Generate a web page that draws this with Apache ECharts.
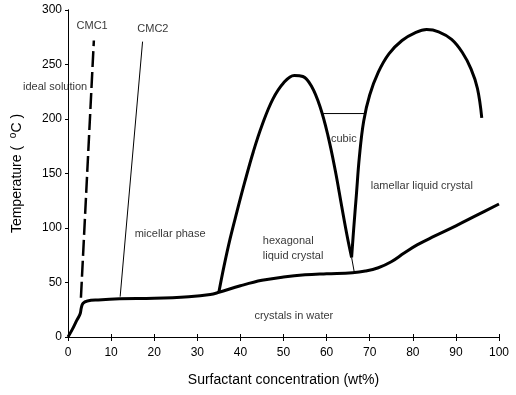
<!DOCTYPE html>
<html>
<head>
<meta charset="utf-8">
<script src="https://cdn.jsdelivr.net/npm/echarts@6/dist/echarts.min.js"></script>
<style>
  html, body { margin: 0; padding: 0; background: #fff; }
  #chart { width: 516px; height: 395px; }
</style>
</head>
<body>
<div id="chart"></div>
<script>
// 相边界数据 (x = wt%, y = °C)
const crystalLine = [
  [0, 0], [1, 7], [2, 15], [2.8, 21], [3.1, 27], [3.5, 31], [4.5, 33], [7, 34],
  [12, 35], [20, 35.5], [28, 37], [33, 39], [35, 41], [40, 47], [45, 52], [50, 55],
  [55, 57], [60, 58], [66, 59], [69, 60.5], [72, 63.5], [75, 69], [78, 77],
  [81, 84.5], [85, 92.5], [90, 102], [95, 112], [100, 122]
];
const hexagonalDome = [
  [35, 41], [36.2, 65], [37.6, 90], [39.2, 115], [41, 142], [43, 170], [45, 194],
  [47.5, 218], [50, 233], [52.5, 240], [54.5, 239], [56.5, 230], [58.5, 211],
  [60.3, 185], [62, 153], [63.5, 120], [64.8, 92], [65.8, 73]
];
const lamellarDome = [
  [65.8, 73], [66.3, 100], [66.9, 130], [67.6, 165], [68.6, 198], [70, 222],
  [72, 243], [74.5, 260], [77.5, 272], [80.5, 279], [83.2, 282], [86, 280],
  [89, 273], [91.5, 261], [93.5, 246], [95, 228], [96, 201]
];
const cmc1Line = [[3, 36], [6, 272]];
const cmc2Line = [[12.1, 37], [17.3, 271]];
const cubicLine = [[59.2, 205], [68.9, 205]];
const hexFoot = [[65.8, 73], [66.4, 60]];

// 文字标注 (数据坐标)
const annotations = [
  { value: [5.6, 285], text: 'CMC1', align: 'center' },
  { value: [19.7, 283], text: 'CMC2', align: 'center' },
  { value: [-3, 229], text: 'ideal solution', align: 'center' },
  { value: [23.7, 94.5], text: 'micellar phase', align: 'center' },
  { value: [45.2, 81], text: 'hexagonal\nliquid crystal', align: 'left' },
  { value: [64, 182], text: 'cubic', align: 'center' },
  { value: [82.1, 138.5], text: 'lamellar liquid crystal', align: 'center' },
  { value: [52.4, 19], text: 'crystals in water', align: 'center' }
];

const xTicks = [0, 100, 10];
const yTicks = [0, 300, 50];

const chart = echarts.init(document.getElementById('chart'));
const font = 'Liberation Sans, Arial, sans-serif';

const thick = (data) => ({
  type: 'line', data, smooth: 0.4, showSymbol: false, silent: true,
  lineStyle: { color: '#000', width: 3 }
});
const thin = (data) => ({
  type: 'line', data, showSymbol: false, silent: true,
  lineStyle: { color: '#000', width: 1 }
});

chart.setOption({
  animation: false,
  backgroundColor: '#fff',
  grid: { left: 68, right: 17, top: 10, bottom: 58 },
  xAxis: [
    {
      type: 'value', min: xTicks[0], max: xTicks[1], interval: xTicks[2],
      name: 'Surfactant concentration (wt%)', nameLocation: 'middle', nameGap: 36,
      nameTextStyle: { color: '#000', fontSize: 14, fontFamily: font },
      axisLine: { lineStyle: { color: '#000', width: 1 } },
      axisTick: { inside: true, length: 3, lineStyle: { color: '#000' } },
      axisLabel: { color: '#000', fontSize: 12, fontFamily: font, margin: 10 },
      splitLine: { show: false }
    },
    {
      type: 'value', position: 'top', min: xTicks[0], max: xTicks[1], interval: xTicks[2],
      axisLine: { lineStyle: { color: '#000', width: 1 } },
      axisTick: { inside: true, length: 4, lineStyle: { color: '#000' } },
      axisLabel: { show: false },
      splitLine: { show: false }
    }
  ],
  yAxis: [
    {
      type: 'value', min: yTicks[0], max: yTicks[1], interval: yTicks[2],
      name: 'Temperature (  {sup|o}C )', nameLocation: 'middle', nameGap: 42,
      nameTextStyle: {
        color: '#000', fontSize: 14, fontFamily: font,
        rich: { sup: { fontSize: 10, verticalAlign: 'top', padding: [0, 0, 8, 0], color: '#000', fontFamily: font } }
      },
      axisLine: { lineStyle: { color: '#000', width: 1 } },
      axisTick: { inside: false, length: 3, lineStyle: { color: '#000' } },
      axisLabel: { color: '#000', fontSize: 12, fontFamily: font, margin: 6 },
      splitLine: { show: false }
    },
    {
      type: 'value', position: 'right', min: yTicks[0], max: yTicks[1], interval: yTicks[2],
      axisLine: { lineStyle: { color: '#000', width: 1 } },
      axisTick: { inside: true, length: 3, lineStyle: { color: '#000' } },
      axisLabel: { show: false },
      splitLine: { show: false }
    }
  ],
  series: [
    thick(crystalLine),
    thick(hexagonalDome),
    thick(lamellarDome),
    {
      type: 'line', data: cmc1Line, showSymbol: false, silent: true,
      lineStyle: { color: '#000', width: 2.5, type: [16, 5] }
    },
    thin(cmc2Line),
    thin(cubicLine),
    thin(hexFoot),
    {
      type: 'scatter', symbolSize: 0, clip: false, silent: true,
      data: annotations.map(a => ({
        value: a.value,
        label: {
          show: true, position: 'inside', formatter: a.text, align: a.align,
          color: '#000', fontSize: 11, fontFamily: font, lineHeight: 15
        }
      }))
    }
  ]
});
</script>
</body>
</html>
